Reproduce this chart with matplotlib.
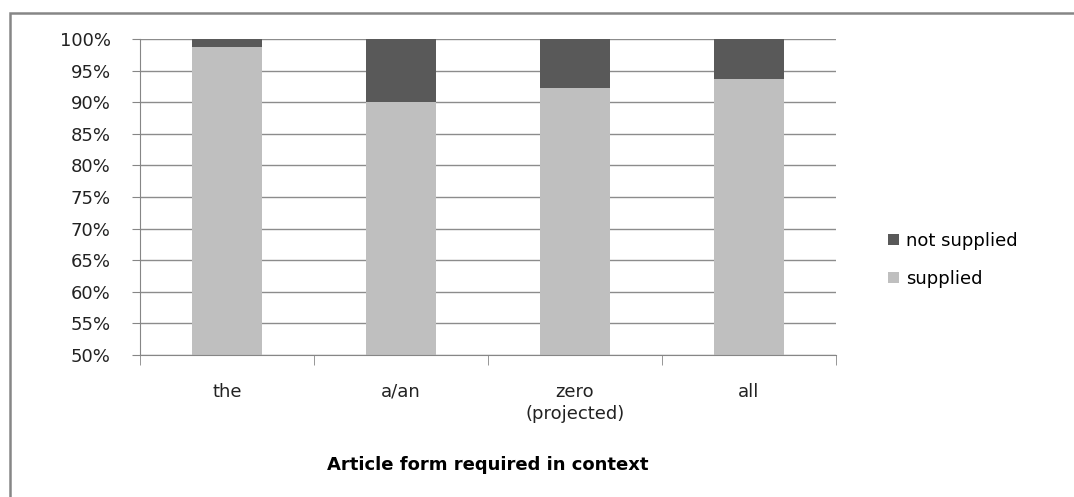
import matplotlib.pyplot as plt
from matplotlib.patches import Rectangle
from matplotlib.ticker import FixedLocator, PercentFormatter

plt.rcParams['font.family'] = ['DejaVu Sans']

categories = ['the', 'a/an', 'zero\n(projected)', 'all']
supplied = [98.7, 90.1, 92.3, 93.7]
not_supplied = [100 - v for v in supplied]

W, H = 1074, 497
FS = 13
fig = plt.figure(figsize=(W / 100, H / 100), dpi=100)
ax = fig.add_axes([140 / W, 1 - 355 / H, (836 - 140) / W, (355 - 39) / H])

# outer chart border (right and bottom edges fall outside the picture)
fig.patches.append(Rectangle((10 / W, -0.01), 1.05, 1 - 13 / H + 0.01,
                             transform=fig.transFigure, fill=False,
                             edgecolor='#868686', linewidth=1.8))

x = range(len(categories))
ax.bar(x, supplied, width=0.4, color='#bfbfbf', label='supplied', zorder=2)
ax.bar(x, not_supplied, width=0.4, bottom=supplied, color='#595959',
       label='not supplied', zorder=2)

ax.set_ylim(50, 100)
ax.set_xlim(-0.5, len(categories) - 0.5)
ax.set_yticks(range(50, 101, 5))
ax.yaxis.set_major_formatter(PercentFormatter(decimals=0))
ax.yaxis.grid(True, color='#8c8c8c', linewidth=1)
ax.set_axisbelow(True)

ax.set_xticks(list(x))
ax.set_xticklabels(categories, linespacing=1.3)
ax.xaxis.set_minor_locator(FixedLocator([i - 0.5 for i in range(len(categories) + 1)]))
ax.tick_params(axis='x', which='major', length=0, pad=20, labelsize=FS, colors='#222222')
ax.tick_params(axis='x', which='minor', length=7, color='#868686')
ax.tick_params(axis='y', length=6, color='#868686', labelsize=FS, pad=15, labelcolor='#222222')

for s in ['top', 'right']:
    ax.spines[s].set_visible(False)
for s in ['left', 'bottom']:
    ax.spines[s].set_color('#868686')

ax.set_xlabel('Article form required in context', fontweight='bold', fontsize=FS,
              labelpad=24)

handles, labels = ax.get_legend_handles_labels()
fig.legend(handles[::-1], labels[::-1], loc='center left',
           bbox_to_anchor=(872 / W, 1 - 260 / H), frameon=False, fontsize=FS,
           handlelength=0.6, handleheight=0.6, handletextpad=0.4, labelspacing=1.1)

fig.savefig('out.png', dpi=100)
